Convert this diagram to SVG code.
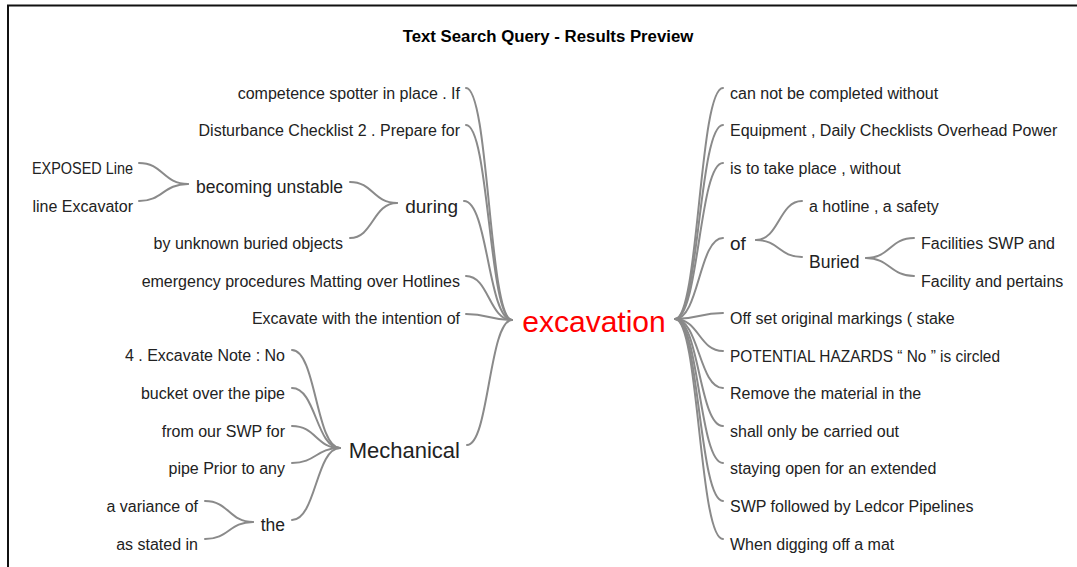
<svg xmlns="http://www.w3.org/2000/svg" width="1077" height="567" viewBox="0 0 1077 567">
<style>
  text { font-family: "Liberation Sans", Arial, sans-serif; fill: #222; }
  .leaf { font-size: 16px; }
  .mid { font-size: 17.5px; }
  .big { font-size: 19px; }
  .l { text-anchor: end; }
  .c { fill: none; stroke: #8a8a8a; stroke-width: 2; stroke-linecap: round; }
</style>
<rect width="1077" height="567" fill="#fff"/>
<path d="M8,567 V5.5 H1077" fill="none" stroke="#111" stroke-width="2"/>
<text x="548" y="42" text-anchor="middle" style="font-size:16.8px;font-weight:bold;fill:#000">Text Search Query - Results Preview</text>

<g id="connectors">
  <!-- left to hub -->
  <path class="c" d="M466,88 C489,88 489,320 512,320"/>
  <path class="c" d="M466,125 C489,125 489,320 512,320"/>
  <path class="c" d="M464,201 C488,201 488,320 512,320"/>
  <path class="c" d="M466,276 C489,276 489,320 512,320"/>
  <path class="c" d="M466,314 C489,314 489,320 512,320"/>
  <path class="c" d="M467,445 C489,445 489,320 512,320"/>
  <!-- during subtree -->
  <path class="c" d="M350,182 C373,182 373,203 397,203"/>
  <path class="c" d="M350,238 C373,238 373,203 397,203"/>
  <path class="c" d="M139,163 C163,163 163,184 188,184"/>
  <path class="c" d="M139,201 C163,201 163,184 188,184"/>
  <!-- Mechanical subtree -->
  <path class="c" d="M292,350 C316,350 316,448 340,448"/>
  <path class="c" d="M292,388 C316,388 316,448 340,448"/>
  <path class="c" d="M292,426 C316,426 316,448 340,448"/>
  <path class="c" d="M292,463 C316,463 316,448 340,448"/>
  <path class="c" d="M292,520 C316,520 316,448 340,448"/>
  <path class="c" d="M205,501 C229,501 229,522 253,522"/>
  <path class="c" d="M205,539 C229,539 229,522 253,522"/>
  <!-- right from hub -->
  <path class="c" d="M675,319 C699,319 699,88 723,88"/>
  <path class="c" d="M675,319 C699,319 699,125 723,125"/>
  <path class="c" d="M675,319 C699,319 699,163 723,163"/>
  <path class="c" d="M675,319 C699,319 699,238 723,238"/>
  <path class="c" d="M675,319 C699,319 699,313 723,313"/>
  <path class="c" d="M675,319 C699,319 699,351 723,351"/>
  <path class="c" d="M675,319 C699,319 699,388 723,388"/>
  <path class="c" d="M675,319 C699,319 699,426 723,426"/>
  <path class="c" d="M675,319 C699,319 699,463 723,463"/>
  <path class="c" d="M675,319 C699,319 699,501 723,501"/>
  <path class="c" d="M675,319 C699,319 699,539 723,539"/>
  <!-- of subtree -->
  <path class="c" d="M756,240 C779,240 779,201 802,201"/>
  <path class="c" d="M756,240 C779,240 779,257 802,257"/>
  <path class="c" d="M866,258 C890,258 890,238 914,238"/>
  <path class="c" d="M866,258 C890,258 890,276 914,276"/>
</g>

<g id="excavation"><text x="594" y="332" text-anchor="middle" style="font-size:30px;fill:#f00">excavation</text></g>

<g id="n-competence"><text class="leaf l" x="460" y="99">competence spotter in place . If</text></g>
<g id="n-disturbance"><text class="leaf l" x="460" y="136">Disturbance Checklist 2 . Prepare for</text></g>
<g id="n-during"><text class="big l" x="458" y="213">during</text></g>
<g id="n-becoming"><text class="mid l" x="343" y="193">becoming unstable</text></g>
<g id="n-exposed"><text class="leaf l" x="133" y="174" textLength="101" lengthAdjust="spacingAndGlyphs">EXPOSED Line</text></g>
<g id="n-lineexc"><text class="leaf l" x="133" y="212">line Excavator</text></g>
<g id="n-unknown"><text class="leaf l" x="343" y="249">by unknown buried objects</text></g>
<g id="n-emergency"><text class="leaf l" x="460" y="287">emergency procedures Matting over Hotlines</text></g>
<g id="n-excavatewith"><text class="leaf l" x="460" y="324">Excavate with the intention of</text></g>
<g id="n-mechanical"><text class="l" x="460" y="458" style="font-size:22px">Mechanical</text></g>
<g id="n-note"><text class="leaf l" x="285" y="361">4 . Excavate Note : No</text></g>
<g id="n-bucket"><text class="leaf l" x="285" y="399">bucket over the pipe</text></g>
<g id="n-fromswp"><text class="leaf l" x="285" y="437">from our SWP for</text></g>
<g id="n-pipeprior"><text class="leaf l" x="285" y="474">pipe Prior to any</text></g>
<g id="n-the"><text class="mid l" x="285" y="531">the</text></g>
<g id="n-variance"><text class="leaf l" x="198" y="512">a variance of</text></g>
<g id="n-stated"><text class="leaf l" x="198" y="550">as stated in</text></g>

<g id="n-cannot"><text class="leaf" x="730" y="99">can not be completed without</text></g>
<g id="n-equipment"><text class="leaf" x="730" y="136">Equipment , Daily Checklists Overhead Power</text></g>
<g id="n-istotake"><text class="leaf" x="730" y="174">is to take place , without</text></g>
<g id="n-of"><text class="big" x="730" y="250">of</text></g>
<g id="n-hotline"><text class="leaf" x="809" y="212">a hotline , a safety</text></g>
<g id="n-buried"><text class="mid" x="809" y="268">Buried</text></g>
<g id="n-facilities"><text class="leaf" x="921" y="249">Facilities SWP and</text></g>
<g id="n-facility"><text class="leaf" x="921" y="287">Facility and pertains</text></g>
<g id="n-offset"><text class="leaf" x="730" y="324">Off set original markings ( stake</text></g>
<g id="n-potential"><text class="leaf" x="730" y="362" textLength="270" lengthAdjust="spacingAndGlyphs">POTENTIAL HAZARDS “ No ” is circled</text></g>
<g id="n-remove"><text class="leaf" x="730" y="399">Remove the material in the</text></g>
<g id="n-shall"><text class="leaf" x="730" y="437">shall only be carried out</text></g>
<g id="n-staying"><text class="leaf" x="730" y="474">staying open for an extended</text></g>
<g id="n-swp"><text class="leaf" x="730" y="512">SWP followed by Ledcor Pipelines</text></g>
<g id="n-digging"><text class="leaf" x="730" y="550">When digging off a mat</text></g>
</svg>
